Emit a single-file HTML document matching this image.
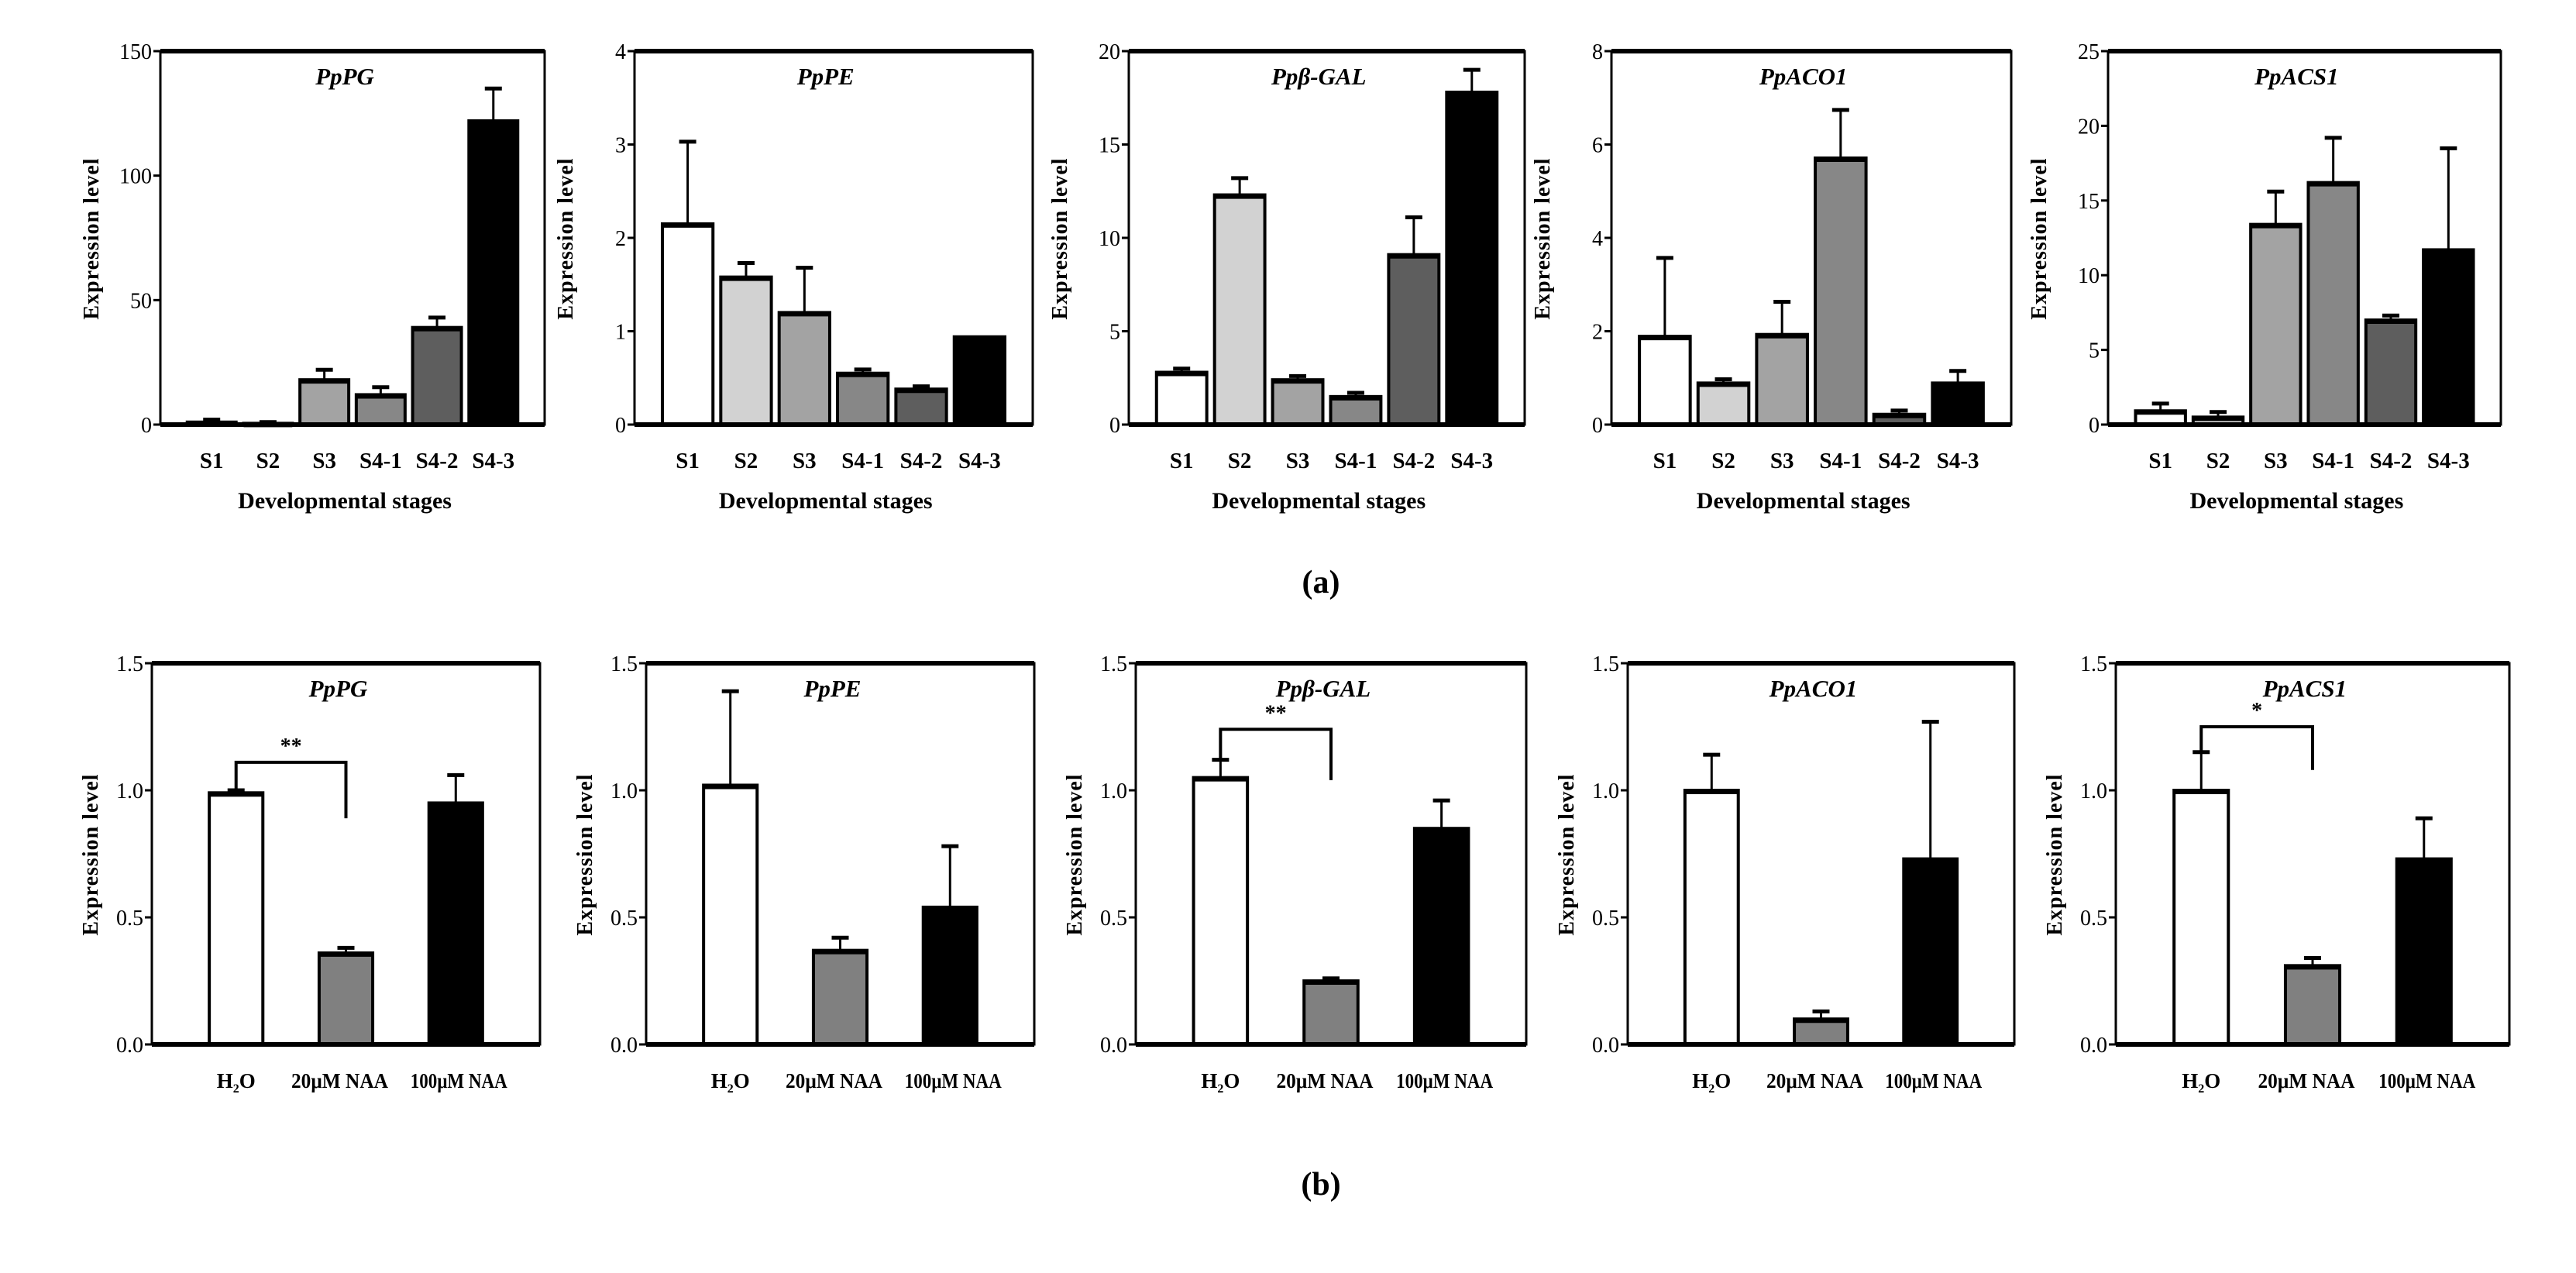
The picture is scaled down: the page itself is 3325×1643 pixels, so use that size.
<!DOCTYPE html>
<html><head><meta charset="utf-8"><style>
html,body{margin:0;padding:0;background:#fff;}
svg{display:block;font-family:"Liberation Serif",serif;}
</style></head><body>
<svg id="fig" width="3325" height="1643" viewBox="0 0 3325 1643" xmlns="http://www.w3.org/2000/svg">
<text x="1705" y="765" font-size="42" font-weight="bold" text-anchor="middle">(a)</text>
<text x="1705" y="1542" font-size="42" font-weight="bold" text-anchor="middle">(b)</text>
</svg>
<script>
const stageCats = ["S1","S2","S3","S4-1","S4-2","S4-3"];
const treatCats = ["H2O","20μM NAA","100μM NAA"];
const aTitles = ["PpPG","PpPE","Ppβ-GAL","PpACO1","PpACS1"];
const aMax = [150,4,20,8,25];
const aStep = [50,1,5,2,5];
const aPG = [1,0.5,18,12,39,122];
const aPGErr = [2,1,22,15,43,135];
const aPE = [2.15,1.58,1.2,0.55,0.38,0.94];
const aPEErr = [3.03,1.73,1.68,0.59,0.41,0.94];
const aGAL = [2.8,12.3,2.4,1.5,9.1,17.8];
const aGALErr = [3.0,13.2,2.6,1.7,11.1,19.0];
const aACO = [1.89,0.89,1.93,5.71,0.22,0.89];
const aACOErr = [3.57,0.97,2.63,6.74,0.3,1.15];
const aACS = [0.92,0.5,13.4,16.2,7.0,11.7];
const aACSErr = [1.41,0.84,15.6,19.2,7.3,18.5];
const bPG = [0.99,0.36,0.95];
const bPGErr = [1.0,0.38,1.06];
const bPE = [1.02,0.37,0.54];
const bPEErr = [1.39,0.42,0.78];
const bGAL = [1.05,0.25,0.85];
const bGALErr = [1.12,0.26,0.96];
const bACO = [1.0,0.1,0.73];
const bACOErr = [1.14,0.13,1.27];
const bACS = [1.0,0.31,0.73];
const bACSErr = [1.15,0.34,0.89];
const bSigLevel = [1.11,null,1.24,null,1.25];
const bSigEnd = [0.89,null,1.04,null,1.08];
const bSigText = ["**",null,"**",null,"*"];

const NS="http://www.w3.org/2000/svg";
const svg=document.getElementById('fig');
function mk(tag,attrs,parent){const e=document.createElementNS(NS,tag);for(const k in attrs)e.setAttribute(k,attrs[k]);(parent||svg).appendChild(e);return e;}

const stageFill=["#ffffff","#d2d2d2","#a3a3a3","#878787","#5e5e5e","#000000"];
const treatFill=["#ffffff","#808080","#000000"];
const aVals=[aPG,aPE,aGAL,aACO,aACS], aErrs=[aPGErr,aPEErr,aGALErr,aACOErr,aACSErr];
const bVals=[bPG,bPE,bGAL,bACO,bACS], bErrs=[bPGErr,bPEErr,bGALErr,bACOErr,bACSErr];
const aL=[207,819,1457,2080,2721], aR=[703,1333,1968,2596,3228];
const bL=[196,834,1466,2101,2731], bR=[697,1335,1970,2600,3239];

function panel(row,i){
  const isA=row==='a';
  const L=isA?aL[i]:bL[i], R=isA?aR[i]:bR[i];
  const T=isA?66:856, B=isA?548:1348;
  const max=isA?aMax[i]:1.5, step=isA?aStep[i]:0.5;
  const vals=isA?aVals[i]:bVals[i], errs=isA?aErrs[i]:bErrs[i];
  const cats=isA?stageCats:treatCats;
  const fills=isA?stageFill:treatFill;
  const W=R-L;
  const y=v=>B-(v/max)*(B-T);
  const g=mk('g',{});
  
  
  // bars
  const n=cats.length;
  const margin=isA?0.07*W:0.148*W, bw=isA?0.127*W:0.138*W;
  const pitch=(W-2*margin-bw)/(n-1);
  const xc=k=>L+margin+bw/2+k*pitch;
  for(let k=0;k<n;k++){
    const cx=xc(k);
    const e=errs[k];
    if(e>vals[k]){
      const ln=mk('line',{x1:cx,x2:cx,y1:y(vals[k]),y2:y(e),stroke:'#000','stroke-width':3},g);
      
      
      const cp=mk('line',{x1:cx-11,x2:cx+11,y1:y(e),y2:y(e),stroke:'#000','stroke-width':5},g);
      
      
    }
    const r=mk('rect',{x:cx-bw/2,y:y(vals[k]),width:bw,height:B-y(vals[k]),fill:fills[k],stroke:'#000','stroke-width':4},g);
    
    
    mk('line',{x1:cx-bw/2,x2:cx+bw/2,y1:y(vals[k])+2,y2:y(vals[k])+2,stroke:'#000','stroke-width':6},g);
    // category label
    if(isA){
      const t=mk('text',{x:cx,y:isA?604:1404,'font-size':29,'font-weight':'bold','text-anchor':'middle'},g);
      t.textContent=cats[k];
      
      
    } else {
      const t=mk('text',{x:cx+(k===1?-8:(k===2?4:0)),y:1404,'font-size':27,'font-weight':'bold','text-anchor':'middle','textLength':k===0?50:125,'lengthAdjust':'spacingAndGlyphs'},g);
      if(k===0){t.innerHTML='H<tspan font-size="16" dy="6">2</tspan><tspan dy="-6">O</tspan>';}
      else t.textContent=cats[k];
      
      
    }
  }
  // frame
  const fr=mk('rect',{x:L,y:T,width:W,height:B-T,fill:'none',stroke:'#000','stroke-width':3},g);
  
  
  mk('line',{x1:L,x2:R,y1:T,y2:T,stroke:'#000','stroke-width':6},g);
  mk('line',{x1:L,x2:R,y1:B,y2:B,stroke:'#000','stroke-width':6},g);
  // ticks
  for(let v=0;v<=max+1e-9;v+=step){
    const yy=y(v);
    mk('line',{x1:L-9,x2:L,y1:yy,y2:yy,stroke:'#000','stroke-width':3},g);
    const t=mk('text',{x:L-11,y:yy+10,'font-size':28,'text-anchor':'end'},g);
    t.textContent=isA?String(Math.round(v)):v.toFixed(1);
    
    
  }
  // title
  const tt=mk('text',{x:L+W*0.48,y:T+43,'font-size':31,'font-weight':'bold','font-style':'italic','text-anchor':'middle'},g);
  tt.textContent=aTitles[i];
  
  
  // y title
  const yc=isA?308:1103, xx=isA?L-80:L-70;
  const yt=mk('text',{x:xx,y:yc,'font-size':28,'font-weight':'bold','text-anchor':'middle',transform:`rotate(-90 ${xx} ${yc})`,'letter-spacing':'1'},g);
  yt.textContent='Expression level';
  
  
  if(isA){
    const xt=mk('text',{x:L+W*0.48,y:656,'font-size':30,'font-weight':'bold','text-anchor':'middle'},g);
    xt.textContent='Developmental stages';
    
    
  } else if(bSigLevel[i]!==null){
    const x1=xc(0), x2=xc(1), ly=y(bSigLevel[i]);
    const br=mk('polyline',{points:`${x1},${y(errs[0])} ${x1},${ly} ${x2},${ly} ${x2},${y(bSigEnd[i])}`,fill:'none',stroke:'#000','stroke-width':4},g);
    
    
    const st=mk('text',{x:(x1+x2)/2,y:ly-12,'font-size':28,'font-weight':'bold','text-anchor':'middle'},g);
    st.textContent=bSigText[i];
    
    
  }
}
for(let i=0;i<5;i++){panel('a',i);panel('b',i);}
</script>
</body></html>
